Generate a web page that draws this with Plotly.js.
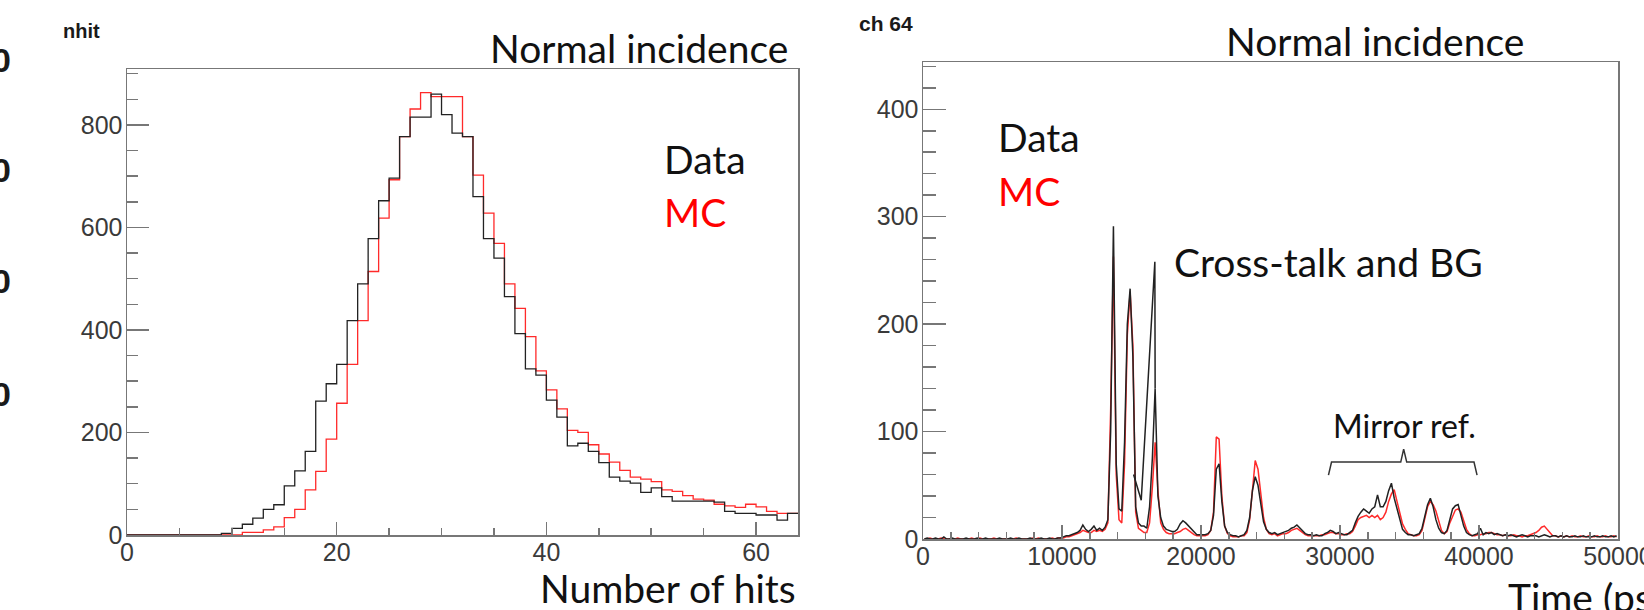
<!DOCTYPE html>
<html>
<head>
<meta charset="utf-8">
<script src="https://cdn.plot.ly/plotly-3.0.1.min.js"></script>
<style>
  html, body { margin: 0; padding: 0; background: #ffffff; }
  #chart { width: 1644px; height: 610px; }
</style>
</head>
<body>
<div id="chart"></div>
<script>
// ---------- Left panel: number of hits (bins of width 1, 0..64) ----------
const nhitData = [
  0,0,0,0,0,0,0,0,0,3,
  13,21,33,50,59,96,125,163,261,295,
  333,418,490,578,652,696,777,815,815,860,
  820,784,777,660,578,540,465,393,324,312,
  263,230,174,179,163,141,113,105,101,83,
  92,75,66,66,66,66,64,46,42,42,
  39,39,29,42
];
const nhitMC = [
  0,0,0,0,0,0,0,0,0,0,
  0,5,5,10,16,34,50,88,124,187,
  257,333,418,514,618,693,777,831,863,855,
  855,855,777,702,628,569,490,442,387,320,
  283,246,204,200,176,158,142,126,113,109,
  104,88,85,77,70,68,60,57,54,60,
  55,46,42,42
];

// ---------- Right panel: ch 64 time spectrum (bins of 200 ps, 0..50000) ----------
const timeData = [
  0,1,0,0,1,0,0,2,0,0,
  1,0,0,0,0,1,0,0,0,1,
  0,0,1,0,0,0,0,1,0,0,
  0,1,0,0,1,0,0,0,1,0,
  0,0,1,0,0,1,0,0,1,1,
  2,3,3,4,5,6,8,13,9,7,
  9,12,8,10,8,11,18,100,291,70,
  28,26,90,200,233,170,30,15,12,12,
  10,30,75,140,40,20,12,9,8,7,
  7,9,14,17,15,12,9,6,4,4,
  4,4,5,8,22,65,70,35,12,6,
  4,3,3,2,3,4,8,20,45,58,
  50,32,16,9,6,5,6,4,5,6,
  7,8,10,11,13,10,8,5,4,4,
  3,4,3,3,5,6,8,7,5,6,
  5,4,4,6,8,15,21,25,28,26,
  24,28,30,41,30,30,35,45,52,38,
  28,18,9,6,4,4,3,4,5,10,
  22,32,38,30,18,10,6,5,8,18,
  28,31,32,22,12,6,4,3,4,5,
  10,4,6,5,6,4,5,4,3,4,
  3,4,3,2,3,4,3,2,3,3,
  3,2,3,4,3,2,3,3,2,3,
  2,3,2,2,3,2,2,3,2,2,
  2,3,2,2,3,2,2,3,2,3
];
const timeMC = [
  0,0,1,0,0,0,1,0,0,0,
  0,0,1,0,0,0,0,1,0,0,
  1,0,0,0,0,1,0,0,0,0,
  0,0,0,1,0,0,0,0,0,1,
  0,1,0,0,0,0,1,0,1,1,
  1,2,2,3,4,5,6,8,7,6,
  6,8,7,8,7,9,15,120,263,60,
  18,15,70,190,230,180,25,10,8,6,
  6,15,48,90,45,15,9,6,5,5,
  5,6,7,9,10,8,6,4,3,3,
  3,3,4,8,25,95,93,40,12,5,
  3,2,2,2,3,3,6,18,45,73,
  65,40,20,9,5,4,5,3,4,5,
  5,6,8,9,10,8,6,4,3,3,
  3,3,3,4,4,5,6,6,5,5,
  4,4,5,5,7,12,18,20,21,22,
  20,22,20,22,18,20,25,35,42,46,
  35,25,14,9,5,4,3,3,4,8,
  20,30,35,32,26,16,8,5,7,15,
  22,27,28,25,17,9,5,3,3,4,
  4,5,5,6,6,5,4,4,3,4,
  3,3,4,3,3,2,3,3,4,5,
  6,8,11,12,9,5,3,3,2,3,
  2,3,2,3,2,2,3,2,2,3,
  2,2,3,2,2,3,2,2,3,2
];
// Extra black cross-talk / BG line in the data
const xtalkTime = [15150, 15700, 16680, 16700];
const xtalkCounts = [60, 36, 258, 140];

// Bracket marking the mirror reflections (time, counts)
const mirrorBracketT = [29170, 29390, 34370, 34580, 34800, 39640, 39860];
const mirrorBracketV = [59.5, 71.6, 71.6, 83.7, 71.6, 71.6, 59.5];

// ---------- build traces ----------
function histEdges(counts, width) {
  const x = [], y = [];
  for (let i = 0; i < counts.length; i++) { x.push(i * width); y.push(counts[i]); }
  x.push(counts.length * width); y.push(counts[counts.length - 1]);
  return {x, y};
}
function binCenters(counts, width) {
  return counts.map((_, i) => i * width + width / 2);
}

const hMC = histEdges(nhitMC, 1);
const hData = histEdges(nhitData, 1);
const tBin = 200;

const BLACK = '#222222';
const RED = '#ff2a2a';

const traces = [
  {x: hMC.x, y: hMC.y, type: 'scatter', mode: 'lines', line: {shape: 'hv', color: RED, width: 1.3}, xaxis: 'x', yaxis: 'y', name: 'MC'},
  {x: hData.x, y: hData.y, type: 'scatter', mode: 'lines', line: {shape: 'hv', color: BLACK, width: 1.3}, xaxis: 'x', yaxis: 'y', name: 'Data'},
  {x: binCenters(timeMC, tBin), y: timeMC, type: 'scatter', mode: 'lines', line: {color: RED, width: 1.5}, xaxis: 'x2', yaxis: 'y2', name: 'MC'},
  {x: binCenters(timeData, tBin), y: timeData, type: 'scatter', mode: 'lines', line: {color: BLACK, width: 1.5}, xaxis: 'x2', yaxis: 'y2', name: 'Data'},
  {x: xtalkTime, y: xtalkCounts, type: 'scatter', mode: 'lines', line: {color: BLACK, width: 1.5}, xaxis: 'x2', yaxis: 'y2', name: 'Data BG'}
];

// ---------- layout ----------
const W = 1644, H = 610;
const px = v => v / W;
const py = v => 1 - v / H;

const AX_COL = '#777777';
const TXT = 'Lato, Open Sans, sans-serif';

function axis(opts) {
  return Object.assign({
    showgrid: false, zeroline: false, showline: true, mirror: true,
    linecolor: AX_COL, linewidth: 1.5,
    ticks: 'inside', tickcolor: AX_COL, tickwidth: 1.5,
    tickfont: {family: 'Liberation Sans, Arial, sans-serif', size: 25, color: '#3a3a3a'},
    tickformat: 'd', separatethousands: false,
    ticklabeloverflow: 'allow',
    fixedrange: true
  }, opts);
}

function txt(text, x, y, xanchor, size, color, extra) {
  return Object.assign({
    text: text, xref: 'paper', yref: 'paper', x: px(x), y: py(y),
    xanchor: xanchor, yanchor: 'middle', showarrow: false,
    font: {family: TXT, size: size, color: color}
  }, extra || {});
}
function boldLbl(text, x, y, xanchor, size) {
  return {text: '<b>' + text + '</b>', xref: 'paper', yref: 'paper', x: px(x), y: py(y),
    xanchor: xanchor, yanchor: 'middle', showarrow: false,
    font: {family: 'Liberation Sans, Arial, sans-serif', size: size, color: '#1a1a1a'}};
}

const bracketPath = mirrorBracketT.map((t, i) => (i === 0 ? 'M' : 'L') + t + ',' + mirrorBracketV[i]).join(' ');

const layout = {
  width: W, height: H, autosize: false,
  margin: {l: 0, r: 0, t: 0, b: 0},
  paper_bgcolor: '#ffffff', plot_bgcolor: '#ffffff',
  showlegend: false,
  font: {family: 'Liberation Sans, Arial, sans-serif'},
  xaxis: axis({domain: [px(127), px(798)], range: [0, 64], dtick: 20, tick0: 0, ticklen: 13, ticklabelstandoff: -6,
    minor: {dtick: 5, ticklen: 7, ticks: 'inside', tickcolor: AX_COL, tickwidth: 1.5}, anchor: 'y'}),
  yaxis: axis({domain: [py(535), py(69)], range: [0, 909], dtick: 200, tick0: 0, ticklen: 22, ticklabelstandoff: -2,
    minor: {dtick: 50, ticklen: 11, ticks: 'inside', tickcolor: AX_COL, tickwidth: 1.5}, anchor: 'x'}),
  xaxis2: axis({domain: [px(923), px(1618)], range: [0, 50000], dtick: 10000, tick0: 0, ticklen: 14, ticklabelstandoff: -6,
    minor: {dtick: 2000, ticklen: 7, ticks: 'inside', tickcolor: AX_COL, tickwidth: 1.5}, anchor: 'y2'}),
  yaxis2: axis({domain: [py(539), py(62)], range: [0, 444], dtick: 100, tick0: 0, ticklen: 23, ticklabelstandoff: -2,
    minor: {dtick: 20, ticklen: 13, ticks: 'inside', tickcolor: AX_COL, tickwidth: 1.5}, anchor: 'x2'}),
  shapes: [
    {type: 'path', xref: 'x2', yref: 'y2', path: bracketPath, line: {color: '#333333', width: 1.5}}
  ],
  annotations: [
    // left panel
    boldLbl('nhit', 61, 31, 'left', 20),
    txt('Normal incidence', 790, 48, 'right', 39, '#111111'),
    txt('Data', 662, 159, 'left', 39, '#111111'),
    txt('MC', 662, 212, 'left', 39, '#ff0000'),
    txt('Number of hits', 798, 588, 'right', 39, '#111111'),
    // right panel
    boldLbl('ch 64', 857, 24, 'left', 21),
    txt('Normal incidence', 1526, 41, 'right', 39, '#111111'),
    txt('Data', 996, 137, 'left', 39, '#111111'),
    txt('MC', 996, 191, 'left', 39, '#ff0000'),
    txt('Cross-talk and BG', 1172, 262, 'left', 39, '#111111'),
    txt('Mirror ref.', 1331, 425, 'left', 32, '#111111'),
    txt('Time (ps)', 1506, 597, 'left', 39, '#111111'),
    // cropped labels at the far left edge
    boldLbl('0', 13, 60, 'right', 34),
    boldLbl('0', 13, 170, 'right', 34),
    boldLbl('0', 13, 281, 'right', 34),
    boldLbl('0', 13, 394, 'right', 34)
  ]
};

Plotly.newPlot('chart', traces, layout, {staticPlot: true, displayModeBar: false, responsive: false});
</script>
</body>
</html>
